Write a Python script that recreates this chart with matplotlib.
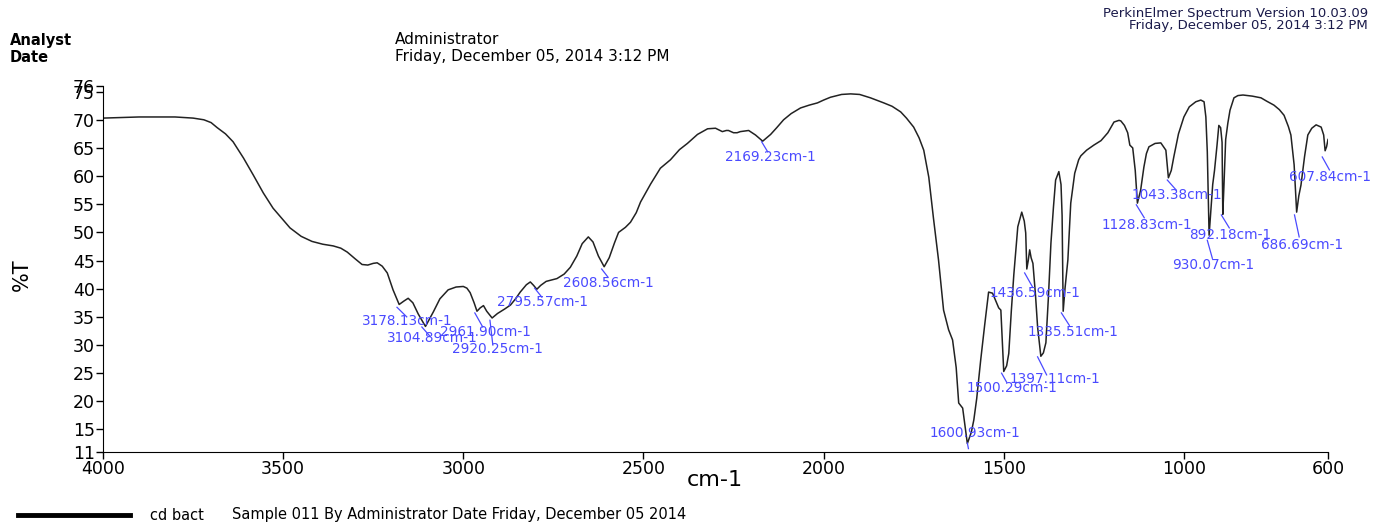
import matplotlib
matplotlib.use("Agg")
import matplotlib.pyplot as plt
from matplotlib.lines import Line2D

# spectrum (wavenumber cm-1, %T)
wavenumber = [
    4000, 3950, 3900, 3850, 3800, 3750, 3720, 3700, 3683, 3660, 3639, 3610, 3583, 3555, 3528,
    3500, 3481, 3450, 3420, 3390, 3361, 3340, 3322, 3300, 3281, 3265, 3250, 3239, 3225, 3211,
    3195, 3178, 3165, 3153, 3140, 3125, 3105, 3095, 3083, 3065, 3042, 3020, 3000, 2990, 2981,
    2970, 2962, 2953, 2944, 2935, 2920, 2905, 2885, 2869, 2855, 2842, 2825, 2814, 2805, 2796,
    2785, 2770, 2758, 2740, 2720, 2703, 2685, 2670, 2653, 2640, 2625, 2609, 2595, 2580, 2569,
    2550, 2536, 2520, 2508, 2480, 2453, 2425, 2400, 2378, 2350, 2322, 2300, 2281, 2270, 2264,
    2250, 2240, 2231, 2208, 2189, 2169, 2158, 2147, 2130, 2111, 2090, 2064, 2040, 2017, 2000,
    1981, 1950, 1925, 1900, 1870, 1833, 1810, 1786, 1770, 1750, 1735, 1722, 1708, 1695, 1681,
    1667, 1653, 1642, 1632, 1625, 1614, 1601, 1590, 1583, 1575, 1564, 1553, 1542, 1531, 1520,
    1514, 1508, 1500, 1492, 1486, 1479, 1472, 1461, 1450, 1443, 1439, 1436, 1432, 1428, 1424,
    1419, 1412, 1406, 1397, 1390, 1383, 1376, 1369, 1362, 1356, 1347, 1341, 1338, 1335, 1330,
    1322, 1314, 1303, 1292, 1286, 1270, 1250, 1230, 1211, 1194, 1180, 1175, 1165, 1156, 1150,
    1142, 1135, 1129, 1120, 1111, 1104, 1097, 1080, 1064, 1050, 1043, 1035, 1028, 1015, 1000,
    985, 967, 953, 944, 939, 935, 930, 926, 920, 915, 908, 903, 898, 894, 892,
    889, 884, 878, 872, 861, 850, 836, 810, 786, 770, 750, 735, 722, 710, 703,
    694, 687, 681, 675, 665, 656, 645, 633, 619, 612, 608, 604, 600,
]
transmittance = [
    70.3, 70.4, 70.5, 70.5, 70.5, 70.3, 70.0, 69.5, 68.6, 67.5, 66.1, 63.2, 60.2, 57.0, 54.3,
    52.2, 50.8, 49.3, 48.4, 47.9, 47.6, 47.2, 46.5, 45.3, 44.3, 44.2, 44.5, 44.6, 44.0, 42.8,
    39.8, 37.2, 37.8, 38.3, 37.5, 35.5, 33.3, 34.5, 35.9, 38.2, 39.8, 40.3, 40.4, 40.1, 39.3,
    37.5, 36.0, 36.6, 37.0, 36.0, 34.8, 35.6, 36.4, 37.1, 38.2, 39.4, 40.7, 41.2, 40.6, 39.9,
    40.6, 41.3, 41.5, 41.8, 42.6, 43.8, 45.8, 48.0, 49.2, 48.3, 45.8, 43.9, 45.5, 48.2, 50.0,
    50.9, 51.8, 53.5, 55.4, 58.6, 61.4, 62.9, 64.7, 65.8, 67.4, 68.4, 68.5, 67.9, 68.1, 68.1,
    67.7, 67.7, 67.9, 68.1, 67.3, 66.2, 66.8, 67.4, 68.6, 70.0, 71.1, 72.1, 72.6, 73.0, 73.5,
    74.0, 74.5, 74.6, 74.5, 73.9, 73.0, 72.4, 71.4, 70.3, 68.7, 66.8, 64.6, 59.8, 52.5, 45.1,
    36.2, 32.7, 30.9, 26.0, 19.7, 18.8, 12.5, 14.5, 16.7, 20.5, 27.3, 33.5, 39.4, 39.2, 37.5,
    36.6, 36.2, 25.3, 26.3, 28.5, 36.0, 42.5, 51.0, 53.6, 52.0, 49.9, 43.5, 45.0, 46.9, 45.5,
    44.5, 39.0, 33.2, 28.0, 28.6, 30.4, 38.5, 48.1, 54.5, 59.3, 60.8, 58.5, 53.0, 36.0, 40.0,
    45.1, 55.2, 60.5, 62.9, 63.6, 64.6, 65.5, 66.3, 67.7, 69.6, 69.9, 69.8, 69.0, 67.7, 65.5,
    65.0, 61.0, 55.2, 57.5, 61.6, 64.0, 65.2, 65.8, 65.9, 64.6, 59.7, 61.0, 63.4, 67.5, 70.5,
    72.3, 73.2, 73.5, 73.2, 70.5, 64.3, 49.5, 53.0, 58.5, 61.0, 65.5, 69.0, 68.6, 66.0, 53.2,
    58.0, 66.5, 69.4, 71.7, 73.9, 74.3, 74.4, 74.2, 73.9, 73.3, 72.6, 71.8, 70.8, 68.8, 67.3,
    62.0, 53.6, 56.5, 58.4, 63.5, 67.3, 68.5, 69.1, 68.7, 67.3, 64.5, 65.2, 66.5,
]

# peak labels
peak_labels = ["3178.13cm-1", "3104.89cm-1", "2961.90cm-1", "2920.25cm-1", "2795.57cm-1",
               "2608.56cm-1", "2169.23cm-1", "1600.93cm-1", "1500.29cm-1", "1397.11cm-1",
               "1436.59cm-1", "1335.51cm-1", "1128.83cm-1", "1043.38cm-1", "892.18cm-1",
               "930.07cm-1", "686.69cm-1", "607.84cm-1"]
# text left edge / centre (data coords) and leader line (x0, y0, x1, y1)
label_pos = [(3282, 34.3), (3212, 31.2), (3065, 32.3), (3032, 29.3), (2907, 37.6),
             (2724, 41.0), (2275, 63.4), (1706, 14.4), (1603, 22.4), (1484, 24.0),
             (1540, 39.2), (1434, 32.3), (1229, 51.3), (1146, 56.6), (985, 49.5),
             (1032, 44.2), (785, 47.8), (707, 59.8)]
leaders = [(3184, 36.7, 3157, 35.0), (3115, 33.2, 3093, 31.6), (2968, 35.7, 2946, 33.2),
           (2926, 34.4, 2918, 30.0), (2802, 40.1, 2782, 38.5), (2616, 43.5, 2599, 42.1),
           (2172, 66.1, 2155, 64.3), (1601, 12.6, 1598, 11.6), (1506, 25.0, 1492, 23.4),
           (1406, 27.9, 1381, 24.7), (1442, 42.8, 1420, 40.3), (1340, 35.7, 1318, 33.5),
           (1132, 54.9, 1110, 52.6), (1046, 59.3, 1021, 57.5), (896, 53.1, 874, 50.8),
           (935, 48.6, 921, 45.4), (693, 53.1, 680, 49.2), (616, 63.4, 596, 61.1)]

W, H = 1387, 524
fig = plt.figure(figsize=(W / 100, H / 100), dpi=100)
ax = fig.add_axes([103 / W, 1 - 452 / H, (1328 - 103) / W, (452 - 86) / H])

ax.plot(wavenumber, transmittance, color="#222222", lw=1.1)

blue = "#4a4aff"
for txt, (tx, ty), (x0, y0, x1, y1) in zip(peak_labels, label_pos, leaders):
    ax.plot([x0, x1], [y0, y1], color=blue, lw=0.9, clip_on=False)
    ax.text(tx, ty, txt, color=blue, fontsize=9.8, ha="left", va="center", clip_on=False)

ax.set_xlim(4000, 600)
ax.set_ylim(11, 76)
ax.set_xticks([4000, 3500, 3000, 2500, 2000, 1500, 1000, 600])
ax.set_yticks([11, 15, 20, 25, 30, 35, 40, 45, 50, 55, 60, 65, 70, 75, 76])
ax.tick_params(labelsize=12.5, direction="out", length=5, width=1, pad=1)
for s in ["top", "right"]:
    ax.spines[s].set_visible(False)

def ftext(x, y, s, **kw):
    fig.text(x / W, 1 - y / H, s, **kw)

ftext(22, 275, "%T", rotation=90, ha="center", va="center", fontsize=15)
ftext(715, 480, "cm-1", ha="center", va="center", fontsize=16)
ftext(10, 40, "Analyst", ha="left", va="center", fontsize=10.5, fontweight="bold")
ftext(10, 57, "Date", ha="left", va="center", fontsize=10.5, fontweight="bold")
ftext(395, 40, "Administrator", ha="left", va="center", fontsize=11)
ftext(395, 57, "Friday, December 05, 2014 3:12 PM", ha="left", va="center", fontsize=11)
ftext(1368, 14, "PerkinElmer Spectrum Version 10.03.09", ha="right", va="center",
      fontsize=9.5, color="#1a1a4a")
ftext(1368, 26, "Friday, December 05, 2014 3:12 PM", ha="right", va="center",
      fontsize=9.5, color="#1a1a4a")

fig.add_artist(Line2D([18 / W, 130 / W], [1 - 515 / H] * 2, color="black", lw=3.5))
ftext(150, 515, "cd bact", ha="left", va="center", fontsize=10.5)
ftext(232, 515, "Sample 011 By Administrator Date Friday, December 05 2014",
      ha="left", va="center", fontsize=10.5)

fig.savefig("out.png", dpi=100)
